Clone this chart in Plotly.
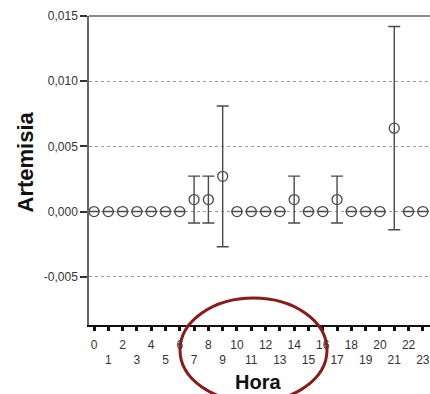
import plotly.graph_objects as go

hours = list(range(24))
means = [0, 0, 0, 0, 0, 0, 0, 0.00092, 0.00092, 0.0027, 0, 0, 0, 0, 0.00092, 0, 0, 0.00092, 0, 0, 0, 0.0064, 0, 0]
errs = [0, 0, 0, 0, 0, 0, 0, 0.0018, 0.0018, 0.0054, 0, 0, 0, 0, 0.0018, 0, 0, 0.0018, 0, 0, 0, 0.0078, 0, 0]
even_hours = [h for h in hours if h % 2 == 0]
even_labels = [str(h) for h in even_hours]
odd_hours = [h for h in hours if h % 2 == 1]
odd_labels = [str(h) for h in odd_hours]
ytickvals = [-0.005, 0.0, 0.005, 0.010, 0.015]
yticklabels = ["-0,005", "0,000", "0,005", "0,010", "0,015"]

W, H = 430, 394
L, R, T, B = 89, 0, 16, 69
PW, PH = W - L - R, H - T - B

def px(x):
    return (x - L) / PW

def py(y):
    return (H - B - y) / PH

fig = go.Figure()
fig.add_trace(go.Scatter(
    x=hours, y=means, mode="markers",
    marker=dict(symbol="circle-open", size=10, color="#4a4a4a", line=dict(width=1.3, color="#4a4a4a")),
    error_y=dict(type="data", array=errs, visible=True, color="#4a4a4a", thickness=1.4, width=6),
    showlegend=False,
))
fig.add_trace(go.Scatter(x=hours, y=means, xaxis="x2", mode="markers",
                         marker=dict(size=1, opacity=0), showlegend=False, hoverinfo="skip"))
fig.add_trace(go.Scatter(x=hours, y=means, xaxis="x3", mode="markers",
                         marker=dict(size=1, opacity=0), showlegend=False, hoverinfo="skip"))

tickfont = dict(family="Arial, Liberation Sans", size=12, color="#333")

fig.update_layout(
    width=W, height=H,
    margin=dict(l=L, r=R, t=T, b=B),
    plot_bgcolor="white", paper_bgcolor="white",
    font=dict(family="Arial, Liberation Sans", color="#333"),
    xaxis=dict(
        range=[-0.35, 23.5],
        tickvals=even_hours, ticktext=even_labels,
        ticks="outside", ticklen=8, tickcolor="rgba(0,0,0,0)",
        showline=True, linecolor="#111", linewidth=1.5,
        showgrid=False, zeroline=False,
        tickfont=tickfont,
    ),
    xaxis2=dict(
        overlaying="x", side="bottom", anchor="y",
        range=[-0.35, 23.5],
        tickvals=odd_hours, ticktext=odd_labels,
        ticks="outside", ticklen=24, tickcolor="rgba(0,0,0,0)",
        showline=False, showgrid=False, zeroline=False,
        tickfont=tickfont,
    ),
    xaxis3=dict(
        overlaying="x", side="bottom", anchor="y",
        range=[-0.35, 23.5],
        tickvals=hours, showticklabels=False,
        ticks="outside", ticklen=5, tickwidth=2.5, tickcolor="#111",
        showline=False, showgrid=False, zeroline=False,
    ),
    yaxis=dict(
        range=[-0.0087, 0.015],
        tickvals=ytickvals, ticktext=yticklabels,
        ticks="outside", ticklen=7, tickwidth=2, tickcolor="#333",
        showline=True, linecolor="#666", linewidth=1.5,
        showgrid=True, gridcolor="#999", griddash="dot", gridwidth=1,
        zeroline=False,
        tickfont=tickfont,
    ),
    annotations=[
        dict(text="<b>Artemisia</b>", xref="paper", yref="paper", x=px(25), y=py(162.5),
             xanchor="center", yanchor="middle", textangle=-90, showarrow=False,
             font=dict(family="Arial, Liberation Sans", size=22, color="#111")),
        dict(text="<b>Hora</b>", xref="paper", yref="paper", x=px(257.5), y=py(381.5),
             xanchor="center", yanchor="middle", showarrow=False,
             font=dict(family="Arial, Liberation Sans", size=20, color="#111")),
    ],
    shapes=[
        dict(type="line", xref="paper", yref="paper", x0=0, x1=1, y0=1, y1=1,
             line=dict(color="#666", width=1.5)),
        dict(type="circle", xref="paper", yref="paper",
             x0=px(180), x1=px(327), y0=py(402), y1=py(298),
             line=dict(color="#8b1a1a", width=3)),
    ],
)

fig.write_html("out.html")
